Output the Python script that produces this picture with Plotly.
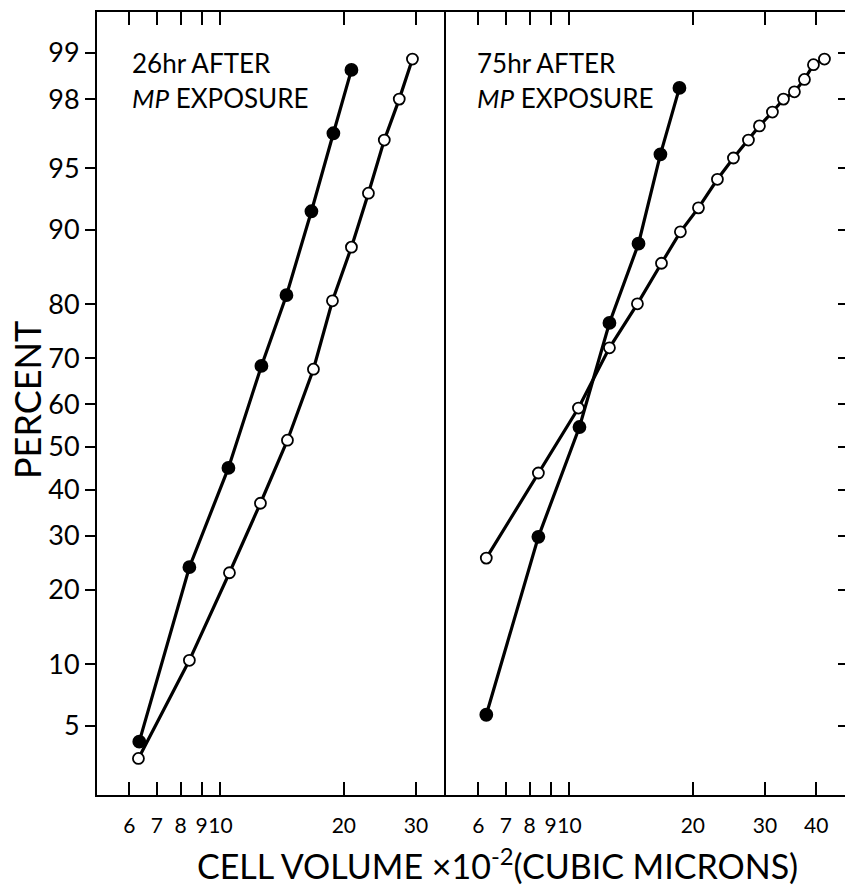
import math
import statistics
import plotly.graph_objects as go

# ---------------- data ----------------
pct_ticks = [5, 10, 20, 30, 40, 50, 60, 70, 80, 90, 95, 98, 99]
x_ticks_left = [6, 7, 8, 9, 10, 20, 30]
x_ticks_right = [6, 7, 8, 9, 10, 20, 30, 40]

# 26 hr after MP exposure
vol26_filled = [6.34, 8.40, 10.46, 12.59, 14.49, 16.67, 18.86, 20.87]
pct26_filled = [4.1, 23.9, 45.1, 68.4, 81.5, 91.8, 96.8, 98.7]
vol26_open = [6.31, 8.40, 10.52, 12.52, 14.57, 16.86, 18.76, 20.87, 22.96, 25.1, 27.3, 29.4]
pct26_open = [3.3, 10.4, 22.9, 37.0, 51.6, 67.7, 80.6, 88.1, 93.3, 96.5, 98.0, 98.9]

# 75 hr after MP exposure
vol75_filled = [6.27, 8.40, 10.58, 12.52, 14.74, 16.67, 18.55]
pct75_filled = [5.7, 29.8, 54.7, 76.8, 88.5, 95.8, 98.3]
vol75_open = [6.27, 8.40, 10.52, 12.52, 14.65, 16.77, 18.65, 20.64, 22.96, 25.12,
              27.33, 29.07, 31.27, 33.27, 35.38, 37.43, 39.37, 41.88]
pct75_open = [25.6, 43.9, 59.1, 72.1, 80.1, 86.1, 89.8, 92.1, 94.3, 95.6,
              96.5, 97.1, 97.6, 98.0, 98.2, 98.5, 98.8, 98.9]

# ---------------- probability (probit) transform ----------------
_nd = statistics.NormalDist()


def probit(values):
    return [_nd.inv_cdf(v / 100.0) for v in values]


W, H = 845, 895
FONT = "Lato"
BLACK = "#000000"

fig = go.Figure()

series = [
    (vol26_filled, pct26_filled, "x", "y", True),
    (vol26_open, pct26_open, "x", "y", False),
    (vol75_filled, pct75_filled, "x2", "y2", True),
    (vol75_open, pct75_open, "x2", "y2", False),
]

# lines first
for xs, ps, xa, ya, filled in series:
    fig.add_trace(go.Scatter(x=xs, y=probit(ps), xaxis=xa, yaxis=ya, mode="lines",
                             line=dict(color=BLACK, width=3.2), showlegend=False,
                             hoverinfo="skip"))
# then markers (filled first, open last)
for xs, ps, xa, ya, filled in sorted(series, key=lambda s: not s[4]):
    fig.add_trace(go.Scatter(
        x=xs, y=probit(ps), xaxis=xa, yaxis=ya, mode="markers",
        marker=dict(symbol="circle", size=12 if filled else 11,
                    color=BLACK if filled else "white",
                    line=dict(color=BLACK, width=1.8)),
        showlegend=False))

# right-edge tick axis of the second panel (carries the same open series, hidden)
fig.add_trace(go.Scatter(x=vol75_open, y=probit(pct75_open), xaxis="x2", yaxis="y3",
                         mode="lines", line=dict(width=0), opacity=0,
                         showlegend=False, hoverinfo="skip"))

left0, split, right1 = 97, 446, 845
top, bottom = 12, 795
px_per_decade = 410.0
px_per_z = 169.4
z_top = 2.568
z_bot = z_top - (bottom - top) / px_per_z
xr_left = [math.log10(5), math.log10(5) + (split - left0) / px_per_decade]
xr_right = [math.log10(5), math.log10(5) + (right1 - split) / px_per_decade]
ydom = [1 - bottom / H, 1 - top / H]

xtickfont = dict(family=FONT, size=21, color=BLACK)
ytickfont = dict(family=FONT, size=27, color=BLACK)
common_x = dict(type="log", ticks="inside", ticklen=13, tickwidth=2, tickcolor=BLACK,
                showline=True, linewidth=2, linecolor=BLACK, mirror="ticks",
                showgrid=False, zeroline=False, tickfont=xtickfont, automargin=False,
                tickangle=0, ticklabelstandoff=11)

fig.update_layout(
    width=W, height=H, template="none",
    paper_bgcolor="white", plot_bgcolor="white",
    margin=dict(l=0, r=0, t=0, b=0),
    xaxis=dict(domain=[left0 / W, split / W], range=xr_left, anchor="y",
               tickvals=x_ticks_left, ticktext=[str(v) for v in x_ticks_left], **common_x),
    xaxis2=dict(domain=[split / W, 1.0], range=xr_right, anchor="y2",
                tickvals=x_ticks_right, ticktext=[str(v) for v in x_ticks_right], **common_x),
    yaxis=dict(domain=ydom, range=[z_bot, z_top], anchor="x",
               tickvals=probit(pct_ticks), ticktext=[str(v) for v in pct_ticks],
               ticks="outside", ticklen=10, tickwidth=2, tickcolor=BLACK,
               showline=True, linewidth=2, linecolor=BLACK, mirror=False,
               showgrid=False, zeroline=False, tickfont=ytickfont, automargin=False),
    yaxis2=dict(domain=ydom, range=[z_bot, z_top], anchor="x2",
                showline=True, linewidth=2, linecolor=BLACK, ticks="",
                showticklabels=False, showgrid=False, zeroline=False, automargin=False),
    yaxis3=dict(domain=ydom, range=[z_bot, z_top], anchor="x2", overlaying="y2",
                side="right", tickvals=probit(pct_ticks), ticks="inside", ticklen=7,
                tickwidth=2, tickcolor=BLACK, showline=False, showticklabels=False,
                showgrid=False, zeroline=False, automargin=False),
    font=dict(family=FONT, color=BLACK),
)

ann_font = dict(family=FONT, size=26, color=BLACK)
annotations = [
    dict(text="26hr AFTER", x=130, y=63),
    dict(text="<i>MP</i> EXPOSURE", x=130, y=98),
    dict(text="75hr AFTER", x=475, y=63),
    dict(text="<i>MP</i> EXPOSURE", x=475, y=98),
]
for a in annotations:
    fig.add_annotation(text=a["text"], x=a["x"] / W, y=1 - a["y"] / H, xref="paper",
                       yref="paper", xanchor="left", yanchor="middle", showarrow=False,
                       font=ann_font)

fig.add_annotation(text="CELL VOLUME \u00d710<sup>-2</sup>(CUBIC MICRONS)",
                   x=497 / W, y=1 - 864 / H, xref="paper", yref="paper",
                   xanchor="center", yanchor="middle", showarrow=False,
                   font=dict(family=FONT, size=34, color=BLACK))
fig.add_annotation(text="PERCENT", x=27 / W, y=1 - 400 / H, xref="paper", yref="paper",
                   xanchor="center", yanchor="middle", textangle=-90, showarrow=False,
                   font=dict(family=FONT, size=36, color=BLACK))

fig.write_html("out.html")
